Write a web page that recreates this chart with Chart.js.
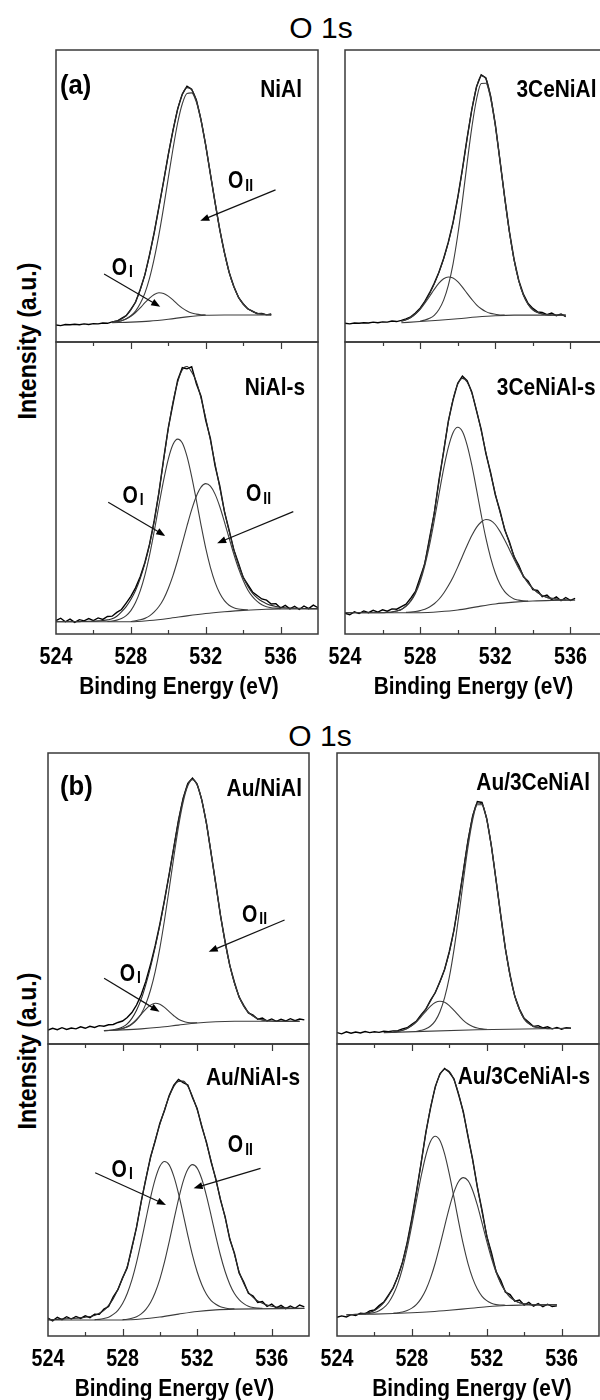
<!DOCTYPE html>
<html>
<head>
<meta charset="utf-8">
<script src="https://cdn.jsdelivr.net/npm/chart.js@4.4.1/dist/chart.umd.min.js"></script>
<style>
  body { margin: 0; width: 600px; height: 1400px; overflow: hidden; background: #fff; position: relative; }
  canvas { position: absolute; }
  .head { position: absolute; font: 30px 'Liberation Sans', Arial, sans-serif; line-height: 1; transform: translate(-50%, -50%); white-space: nowrap; }
  .ylab { position: absolute; font: bold 26px 'Liberation Sans', Arial, sans-serif; line-height: 1;
          transform: translate(-50%, -50%) rotate(-90deg) scaleX(0.89); white-space: nowrap; }
</style>
</head>
<body>
<div class="head" style="left:321px;top:28px">O 1s</div>
<div class="head" style="left:320px;top:736px">O 1s</div>
<div class="ylab" style="left:27px;top:341px">Intensity (a.u.)</div>
<div class="ylab" style="left:27px;top:1051px">Intensity (a.u.)</div>

<script>
const sans = "'Liberation Sans', Arial, sans-serif";

// binding energy sampling (eV) and axis ticks
const energyGrid = [524, 524.25, 524.5, 524.75, 525, 525.25, 525.5, 525.75, 526, 526.25, 526.5, 526.75,
  527, 527.25, 527.5, 527.75, 528, 528.25, 528.5, 528.75, 529, 529.25, 529.5, 529.75,
  530, 530.25, 530.5, 530.75, 531, 531.25, 531.5, 531.75, 532, 532.25, 532.5, 532.75,
  533, 533.25, 533.5, 533.75, 534, 534.25, 534.5, 534.75, 535, 535.25, 535.5, 535.75,
  536, 536.25, 536.5, 536.75, 537, 537.25, 537.5, 537.75, 538];
const energyTicks = [524, 528, 532, 536];
const minorTicks = [526, 530, 534];

// NiAl (from 524 / 527 eV)
const niAlRaw = [5.8, 5.6, 6.0, 5.9, 6.1, 5.9, 6.2, 6.0, 6.3, 6.2, 6.5, 6.4,
  6.9, 7.1, 8.1, 9.0, 11.2, 13.6, 18.0, 23.0, 29.9, 37.5, 46.3, 55.0,
  64.2, 72.4, 79.8, 84.9, 87.6, 86.6, 82.9, 76.0, 67.4, 57.5, 47.8, 38.5,
  30.7, 23.9, 19.1, 15.3, 13.1, 11.3, 10.6, 9.7, 9.8, 9.3, 9.6];
const niAlFit = [6.85, 7.25, 7.9, 9.05, 11.0, 13.8, 17.85, 23.15, 29.75, 37.6, 46.15, 55.1,
  64.1, 72.5, 79.7, 84.8, 87.1, 86.4, 82.75, 76.15, 67.35, 57.6, 47.75, 38.55,
  30.55, 23.95, 18.95, 15.45, 12.95, 11.45, 10.45, 9.85, 9.55, 9.4, 9.3];
const niAlO1 = [6.7, 6.95, 7.3, 7.85, 8.8, 10.1, 11.65, 13.45, 15.05, 16.3, 16.85, 16.6,
  15.7, 14.4, 12.9, 11.6, 10.6, 9.9, 9.55, 9.35, 9.25];
const niAlO2 = [6.75, 6.95, 7.3, 7.95, 9.0, 10.6, 13.15, 16.75, 21.85, 28.6, 36.75, 46.1,
  56.2, 66.1, 75.0, 81.6, 85.1, 85.3, 82.15, 75.85, 67.25, 57.6, 47.75, 38.55,
  30.55, 23.95, 18.95, 15.45, 12.95, 11.45, 10.45, 9.85, 9.55, 9.4, 9.3];
const niAlBase = [[527, 6.6], [528, 6.8], [529, 7.15], [530, 7.8], [531, 8.6], [532, 9.15], [533, 9.25], [535.5, 9.25]];

// NiAl-s
const niAlSRaw = [4.6, 5.4, 4.2, 5.1, 4.0, 4.9, 4.5, 5.3, 4.6, 5.5, 5.0, 6.0,
  6.1, 7.4, 8.4, 10.6, 12.9, 15.8, 19.6, 24.5, 30.8, 38.9, 48.4, 59.9,
  70.6, 78.8, 86.9, 91.2, 90.8, 91.5, 85.7, 81.4, 73.2, 67.0, 57.6, 50.8,
  41.9, 35.6, 28.9, 24.2, 19.4, 16.9, 14.4, 13.2, 12.0, 11.6, 10.3, 10.4,
  8.9, 9.8, 8.6, 9.5, 8.4, 9.6, 8.7, 9.9, 9.0];
const niAlSFit = [4.2, 4.2, 4.2, 4.2, 4.2, 4.25, 4.3, 4.35, 4.4, 4.5, 4.65, 4.85,
  5.2, 6.1, 7.6, 9.4, 11.8, 14.9, 19.0, 24.2, 30.6, 38.6, 48.6, 59.5,
  70.2, 79.4, 86.25, 90.5, 91.6, 89.7, 86.4, 80.8, 73.9, 66.35, 58.3, 50.15,
  42.2, 35.2, 29.0, 23.8, 19.6, 16.4, 14.0, 12.4, 11.2, 10.4, 9.8, 9.4,
  9.15, 9.0, 8.9, 8.85, 8.8, 8.75, 8.7, 8.7, 8.7];
const niAlSO1 = [4.3, 4.45, 4.75, 5.3, 6.3, 8.0, 10.75, 14.75, 20.15, 27.0, 35.25, 44.1,
  52.6, 59.9, 64.9, 66.75, 65.4, 60.8, 53.9, 45.8, 37.3, 29.4, 22.85, 17.7,
  13.95, 11.4, 9.85, 9.0, 8.55, 8.35, 8.3];
const niAlSO2 = [4.3, 4.55, 4.85, 5.35, 6.2, 7.55, 9.4, 12.0, 15.6, 20.0, 25.25, 31.1,
  37.0, 42.6, 47.2, 50.3, 51.5, 50.65, 47.9, 43.65, 38.4, 32.85, 27.4, 22.5,
  18.4, 15.1, 12.8, 11.15, 10.0, 9.35, 9.0, 8.85, 8.7];
const niAlSBase = [[524, 4.2], [528, 4.2], [529, 4.6], [530, 5.3], [531, 6.2], [532, 7.0], [533, 7.6],
  [534, 8.1], [535, 8.4], [536, 8.6], [538, 8.6]];

// 3CeNiAl
const ceRaw = [6.4, 6.2, 6.5, 6.4, 6.6, 6.5, 6.8, 6.6, 6.9, 6.8, 7.2, 7.0,
  7.4, 7.9, 8.6, 9.9, 11.6, 13.9, 16.8, 20.1, 23.9, 28.6, 34.2, 40.9,
  49.4, 59.2, 69.8, 79.6, 87.4, 91.5, 90.4, 84.2, 74.6, 62.1, 49.6, 37.9,
  28.3, 21.1, 16.3, 13.2, 11.5, 10.3, 10.1, 9.4, 9.9, 9.0, 9.6, 8.7];
const ceFit = [7.1, 7.6, 8.4, 9.6, 11.35, 13.7, 16.5, 19.85, 23.85, 28.45, 34.0, 40.8,
  49.25, 59.05, 69.65, 79.6, 87.25, 91.2, 90.2, 84.3, 74.5, 62.25, 49.45, 37.75,
  28.1, 20.95, 16.0, 12.9, 11.05, 10.1, 9.6, 9.35, 9.25, 9.2, 9.2, 9.2];
const ceO1 = [7.1, 7.6, 8.4, 9.6, 11.2, 13.3, 15.6, 18.0, 20.15, 21.65, 22.25, 21.9,
  20.65, 18.8, 16.65, 14.6, 12.75, 11.4, 10.4, 9.8, 9.5, 9.25, 9.2];
const ceO2 = [7.15, 7.5, 8.1, 9.15, 11.15, 14.35, 19.4, 26.7, 36.55, 48.35, 61.25, 73.4,
  83.05, 88.5, 88.6, 83.4, 74.0, 62.05, 49.35, 37.75, 28.1, 20.95, 16.0, 12.9,
  11.05, 10.1, 9.6, 9.35, 9.25];
const ceBase = [[527, 6.6], [528, 7.0], [529, 7.45], [530, 7.95], [531, 8.55], [532, 9.0], [533, 9.2], [535.75, 9.2]];

// 3CeNiAl-s
const ceSRaw = [7.1, 6.6, 7.6, 7.0, 7.9, 7.3, 8.1, 7.5, 8.3, 7.8, 8.6, 8.5,
  9.4, 10.2, 12.3, 14.6, 19.4, 24.1, 32.8, 41.2, 52.6, 62.4, 72.9, 80.1,
  85.9, 88.3, 86.8, 82.9, 76.4, 70.1, 61.8, 55.3, 47.7, 42.2, 35.7, 31.6,
  26.4, 23.5, 19.6, 18.1, 15.2, 14.9, 12.8, 13.3, 11.8, 12.7, 11.4, 12.5,
  11.5, 12.2];
const ceSFit = [7.3, 7.3, 7.3, 7.3, 7.3, 7.3, 7.3, 7.3, 7.3, 7.4, 7.55, 7.9,
  8.4, 9.6, 11.4, 14.3, 18.6, 24.55, 32.25, 41.65, 52.1, 62.75, 72.5, 80.35,
  85.5, 87.55, 86.3, 82.5, 76.7, 69.65, 62.2, 54.95, 48.1, 41.75, 36.1, 31.15,
  26.7, 23.0, 19.95, 17.5, 15.6, 14.2, 13.2, 12.55, 12.2, 11.95, 11.75, 11.7, 11.6];
const ceSO1 = [7.4, 7.55, 7.9, 8.4, 9.5, 11.2, 13.9, 17.9, 23.45, 30.45, 38.8, 47.8,
  56.55, 63.9, 68.95, 70.8, 69.35, 64.7, 57.8, 49.5, 40.85, 32.8, 26.15, 20.9,
  17.05, 14.5, 12.95, 12.0, 11.6, 11.35, 11.3];
const ceSO2 = [7.4, 7.5, 7.7, 8.0, 8.45, 9.25, 10.35, 11.9, 13.95, 16.5, 19.45, 22.9,
  26.65, 30.3, 33.7, 36.5, 38.35, 39.2, 38.85, 37.5, 35.15, 32.2, 28.95, 25.6,
  22.4, 19.7, 17.4, 15.6, 14.2, 13.2, 12.55, 12.2, 11.95, 11.75, 11.7];
const ceSBase = [[524, 7.3], [528, 7.3], [529, 7.6], [530, 8.2], [531, 9.3], [532, 10.3], [533, 10.9],
  [534, 11.3], [535, 11.5], [536.25, 11.6]];

// Au/NiAl
const auRaw = [4.8, 5.4, 4.9, 5.6, 5.0, 5.5, 5.2, 5.9, 5.4, 6.1, 5.7, 6.3,
  6.1, 6.6, 6.7, 7.4, 7.9, 9.1, 10.8, 13.4, 16.9, 21.6, 27.3, 33.8,
  41.2, 49.5, 58.4, 67.6, 76.9, 84.5, 89.6, 91.4, 89.3, 83.9, 75.9, 65.4,
  55.1, 44.2, 35.3, 27.0, 21.2, 16.1, 13.3, 10.7, 9.9, 8.5, 8.9, 7.9,
  8.6, 7.8, 8.5, 7.9, 8.7, 8.0, 8.6, 8.3];
const auFit = [4.6, 4.65, 4.9, 5.2, 5.85, 6.9, 8.8, 11.6, 15.4, 20.5, 26.45, 33.3,
  40.85, 49.3, 58.3, 67.7, 76.7, 84.2, 89.2, 91.0, 89.1, 83.75, 75.65, 65.55,
  54.85, 44.4, 34.95, 27.1, 20.9, 16.3, 13.0, 10.9, 9.6, 8.7, 8.3, 8.05,
  7.9, 7.85, 7.8, 7.8, 7.8, 7.8, 7.8];
const auO1 = [4.8, 4.95, 5.35, 6.0, 7.0, 8.5, 10.2, 12.0, 13.35, 14.0, 13.65, 12.6,
  11.1, 9.7, 8.5, 7.8, 7.4, 7.25, 7.3];
const auO2 = [5.0, 5.35, 5.8, 6.8, 8.2, 10.4, 13.8, 18.55, 24.9, 32.95, 42.6, 53.3,
  64.3, 74.7, 83.1, 88.7, 90.8, 89.0, 83.75, 75.65, 65.55, 54.85, 44.4, 34.95,
  27.1, 20.9, 16.3, 13.0, 10.9, 9.6, 8.7, 8.3, 8.05];
const auBase = [[527, 4.6], [528, 4.85], [529, 5.2], [530, 5.75], [531, 6.5], [532, 7.2], [533, 7.65], [534, 7.8], [537.5, 7.8]];

// Au/NiAl-s
const auSRaw = [6.1, 5.2, 6.4, 5.6, 6.6, 5.8, 6.7, 6.0, 6.9, 6.3, 7.5, 7.4,
  9.2, 10.1, 13.4, 15.9, 19.9, 23.4, 30.4, 37.2, 46.1, 53.7, 61.3, 66.8,
  72.9, 77.2, 82.4, 85.9, 87.9, 86.8, 86.0, 81.7, 77.9, 71.6, 66.4, 59.6,
  53.9, 46.6, 40.9, 33.1, 28.4, 21.6, 18.5, 14.6, 13.7, 11.5, 11.8, 10.1,
  10.9, 9.6, 10.5, 9.4, 10.3, 9.5, 10.6, 10.0];
const auSFit = [5.6, 5.65, 5.7, 5.8, 5.9, 6.0, 6.1, 6.25, 6.4, 6.7, 7.0, 7.8,
  8.8, 10.5, 12.8, 16.0, 19.8, 23.8, 30.0, 37.5, 45.8, 54.0, 61.0, 67.1,
  72.5, 77.5, 82.0, 85.5, 87.2, 87.3, 85.5, 82.0, 77.5, 72.0, 66.0, 60.0,
  53.5, 47.0, 40.5, 33.5, 28.0, 22.0, 18.0, 15.0, 13.2, 12.0, 11.2, 10.6,
  10.2, 9.9, 9.8, 9.7, 9.6, 9.55, 9.5, 9.45];
const auSO1 = [5.6, 5.7, 6.0, 6.45, 7.4, 8.8, 11.1, 14.55, 19.2, 25.2, 32.3, 39.95,
  47.4, 53.7, 58.1, 59.75, 58.6, 54.65, 48.8, 41.75, 34.5, 27.7, 22.0, 17.55,
  14.3, 12.15, 10.85, 10.0, 9.6, 9.35, 9.3];
const auSO2 = [5.6, 5.75, 6.05, 6.6, 7.6, 9.15, 11.45, 14.9, 19.5, 25.35, 32.25, 39.65,
  46.8, 52.95, 57.1, 58.7, 57.5, 53.75, 48.0, 41.25, 34.2, 27.65, 22.1, 17.75,
  14.55, 12.45, 11.1, 10.2, 9.75, 9.55, 9.45];
const auSBase = [[524, 5.5], [528, 5.5], [529, 5.8], [530, 6.5], [531, 7.5], [532, 8.4], [533, 8.95], [534, 9.2], [537.75, 9.4]];

// Au/3CeNiAl
const au3Raw = [3.9, 3.5, 4.2, 3.7, 4.1, 3.8, 4.3, 3.9, 4.2, 4.0, 4.4, 4.2,
  4.5, 4.6, 5.2, 5.6, 6.8, 7.9, 10.1, 12.0, 15.1, 17.6, 21.5, 25.6,
  31.7, 39.1, 49.0, 59.3, 70.0, 78.4, 83.3, 83.0, 77.5, 68.1, 56.2, 44.3,
  32.6, 23.7, 16.4, 12.0, 8.8, 7.5, 6.0, 6.3, 5.5, 5.9, 5.2, 5.7,
  5.1, 5.6, 5.4];
const au3Fit = [4.1, 4.35, 4.7, 5.35, 6.3, 7.8, 9.8, 12.1, 14.8, 17.75, 21.3, 25.75,
  31.5, 39.25, 48.8, 59.45, 69.8, 78.25, 82.8, 82.5, 77.25, 67.9, 56.3, 44.05,
  32.75, 23.4, 16.5, 11.75, 8.65, 7.0, 6.05, 5.65, 5.4, 5.3, 5.3, 5.35,
  5.35, 5.4, 5.4];
const au3O1 = [4.1, 4.35, 4.7, 5.35, 6.3, 7.65, 9.4, 11.25, 13.0, 14.25, 14.7, 14.35,
  13.2, 11.55, 9.8, 8.15, 6.9, 6.05, 5.5, 5.2, 5.05];
const au3O2 = [4.4, 4.7, 5.2, 6.2, 7.95, 11.1, 15.95, 22.9, 32.35, 43.7, 56.05, 67.7,
  77.05, 82.2, 82.2, 77.15, 67.9, 56.3, 44.05, 32.75, 23.4, 16.5, 11.75, 8.65,
  7.0, 6.05, 5.65, 5.4];
const au3Base = [[526.5, 3.9], [531.5, 4.9], [536.5, 5.4]];

// Au/3CeNiAl-s
const au3SRaw = [6.4, 6.9, 6.5, 7.3, 7.0, 7.8, 7.6, 8.6, 8.9, 10.4, 11.6, 14.0,
  16.5, 20.4, 25.2, 32.0, 40.3, 49.6, 59.4, 69.8, 78.1, 85.4, 89.8, 91.6,
  90.3, 88.1, 82.6, 76.8, 68.3, 60.5, 50.9, 43.1, 34.2, 28.6, 22.0, 19.1,
  15.0, 14.2, 11.9, 12.3, 10.6, 11.5, 10.2, 11.1, 10.0, 10.9, 10.1, 10.3];
const au3SFit = [7.2, 7.3, 7.4, 7.55, 7.75, 8.1, 8.7, 9.8, 11.4, 13.7,
  16.6, 20.4, 25.4, 31.8, 39.8, 49.35, 59.6, 69.55, 78.3, 85.0, 89.45, 91.25,
  90.6, 87.75, 82.9, 76.35, 68.6, 60.05, 51.2, 42.5, 34.6, 27.8, 22.35, 18.25,
  15.35, 13.3, 12.15, 11.4, 11.0, 10.8, 10.7, 10.65, 10.65, 10.7, 10.7, 10.7];
const au3SO1 = [7.55, 7.75, 8.05, 8.65, 9.7, 11.4, 14.1, 17.95, 23.2, 30.0, 37.95, 46.55,
  54.8, 61.9, 66.7, 68.4, 66.95, 62.35, 55.5, 47.45, 39.1, 31.35, 24.8, 19.75,
  16.1, 13.6, 12.1, 11.2, 10.75, 10.6, 10.55];
const au3SO2 = [7.8, 7.95, 8.2, 8.7, 9.55, 10.85, 12.9, 15.85, 19.9, 25.0, 31.05, 37.55,
  43.9, 49.25, 52.9, 54.25, 53.2, 49.85, 44.8, 38.75, 32.5, 26.7, 21.8, 18.0,
  15.25, 13.3, 12.15, 11.4, 11.0, 10.8, 10.7];
const au3SBase = [[524.5, 7.3], [525.5, 7.45], [526, 7.5], [527, 7.7], [528, 7.95], [529, 8.3], [530, 8.8],
  [531, 9.4], [532, 10.0], [533, 10.45], [534, 10.6], [535.75, 10.7]];

// O_I / O_II call-outs: label centre, arrow tail, arrow tip (eV, a.u.)
const niAlMarks = [
  { sub: 'I', at: [527.54, 26.0], from: [526.57, 23.3], to: [529.57, 12.1] },
  { sub: 'II', at: [533.86, 55.5], from: [535.73, 52.1], to: [531.71, 41.5] }];
const niAlSMarks = [
  { sub: 'I', at: [528.12, 47.9], from: [526.79, 45.1], to: [529.84, 33.6] },
  { sub: 'II', at: [534.82, 48.3], from: [536.68, 41.9], to: [532.61, 31.1] }];
const auMarks = [
  { sub: 'I', at: [528.41, 24.7], from: [527.01, 22.6], to: [529.98, 11.1] },
  { sub: 'II', at: [535.08, 45.0], from: [536.69, 42.6], to: [532.62, 31.7] }];
const auSMarks = [
  { sub: 'I', at: [527.98, 57.5], from: [526.53, 55.9], to: [530.33, 44.9] },
  { sub: 'II', at: [534.32, 65.8], from: [535.4, 57.4], to: [531.81, 50.6] }];

function onGrid(from, values) {
  const start = energyGrid.indexOf(from);
  return values.map((v, i) => [energyGrid[start + i], v]);
}

// box = [left, top, right, bottom] of the plot frame in page pixels
const panels = [
  { box: [56, 50, 318, 342], lower: false, name: 'NiAl', nameAt: [-16, 47], tag: '(a)', tagAt: [4, 44],
    raw: onGrid(524, niAlRaw), fit: onGrid(527, niAlFit), o1: onGrid(527, niAlO1), o2: onGrid(527, niAlO2), base: niAlBase, marks: niAlMarks },
  { box: [56, 342, 318, 634], lower: true, name: 'NiAl-s', nameAt: [-13, 53], titleDx: -8,
    raw: onGrid(524, niAlSRaw), fit: onGrid(524, niAlSFit), o1: onGrid(526.75, niAlSO1), o2: onGrid(528, niAlSO2), base: niAlSBase, marks: niAlSMarks },
  { box: [345, 50, 607.5, 342], lower: false, name: '3CeNiAl', nameAt: [-11.5, 47],
    raw: onGrid(524, ceRaw), fit: onGrid(527, ceFit), o1: onGrid(527, ceO1), o2: onGrid(528, ceO2), base: ceBase, marks: [] },
  { box: [345, 342, 607.5, 634], lower: true, name: '3CeNiAl-s', nameAt: [-12.5, 53], titleDx: -3,
    raw: onGrid(524, ceSRaw), fit: onGrid(524, ceSFit), o1: onGrid(526.25, ceSO1), o2: onGrid(527.25, ceSO2), base: ceSBase, marks: [] },
  { box: [48, 753, 309, 1044], lower: false, name: 'Au/NiAl', nameAt: [-7, 43], tag: '(b)', tagAt: [12, 42],
    raw: onGrid(524, auRaw), fit: onGrid(527, auFit), o1: onGrid(527.5, auO1), o2: onGrid(527.75, auO2), base: auBase, marks: auMarks },
  { box: [48, 1044, 309, 1336], lower: true, name: 'Au/NiAl-s', nameAt: [-9, 41], titleDx: -4,
    raw: onGrid(524, auSRaw), fit: onGrid(524, auSFit), o1: onGrid(526.5, auSO1), o2: onGrid(528, auSO2), base: auSBase, marks: auSMarks },
  { box: [337, 753, 599, 1044], lower: false, name: 'Au/3CeNiAl', nameAt: [-9, 37],
    raw: onGrid(524, au3Raw), fit: onGrid(527, au3Fit), o1: onGrid(527, au3O1), o2: onGrid(528.25, au3O2), base: au3Base, marks: [] },
  { box: [337, 1044, 599, 1336], lower: true, name: 'Au/3CeNiAl-s', nameAt: [-9, 40], titleDx: 4,
    raw: onGrid(524, au3SRaw), fit: onGrid(524.5, au3SFit), o1: onGrid(525.5, au3SO1), o2: onGrid(527, au3SO2), base: au3SBase, marks: [] }
];

// condensed bold text: squeeze horizontally around the anchor
function squeezed(ctx, text, x, y, size, sx, align) {
  ctx.save();
  ctx.font = `bold ${size}px ${sans}`;
  ctx.textAlign = align;
  ctx.textBaseline = 'alphabetic';
  ctx.translate(x, y);
  ctx.scale(sx, 1);
  ctx.fillText(text, 0, 0);
  ctx.restore();
}

// frame, inward ticks, axis labels, sample name and O_I / O_II call-outs
const framePlugin = {
  id: 'frame',
  afterDatasetsDraw(chart, args, opts) {
    const { ctx, chartArea: a, scales: { x, y } } = chart;
    ctx.save();
    ctx.strokeStyle = '#3a3a3a';
    ctx.lineWidth = 1.5;
    ctx.strokeRect(a.left, a.top, a.right - a.left, a.bottom - a.top);
    ctx.fillStyle = '#000';

    if (opts.lower) {
      ctx.lineWidth = 1.2;
      ctx.beginPath();
      for (const v of energyTicks.concat(minorTicks)) {
        if (v === 524) continue;
        const px = Math.round(x.getPixelForValue(v)) + 0.5;
        const len = energyTicks.includes(v) ? 7 : 4;
        ctx.moveTo(px, a.bottom); ctx.lineTo(px, a.bottom - len);
        ctx.moveTo(px, a.top); ctx.lineTo(px, a.top + len);
      }
      ctx.stroke();
      for (const v of energyTicks) {
        squeezed(ctx, String(v), x.getPixelForValue(v), a.bottom + 30, 24, 0.82, 'center');
      }
      squeezed(ctx, 'Binding Energy (eV)', (a.left + a.right) / 2 + opts.titleDx, a.bottom + 60, 24, 0.87, 'center');
    }

    squeezed(ctx, opts.name, a.right + opts.nameAt[0], a.top + opts.nameAt[1], 24, 0.87, 'right');
    if (opts.tag) {
      squeezed(ctx, opts.tag, a.left + opts.tagAt[0], a.top + opts.tagAt[1], 27, 0.95, 'left');
    }

    ctx.strokeStyle = '#111';
    ctx.lineWidth = 1.2;
    for (const m of opts.marks) {
      const x0 = x.getPixelForValue(m.from[0]), y0 = y.getPixelForValue(m.from[1]);
      const x1 = x.getPixelForValue(m.to[0]), y1 = y.getPixelForValue(m.to[1]);
      const ang = Math.atan2(y1 - y0, x1 - x0);
      ctx.beginPath();
      ctx.moveTo(x0, y0); ctx.lineTo(x1 - 5 * Math.cos(ang), y1 - 5 * Math.sin(ang));
      ctx.stroke();
      ctx.beginPath();
      ctx.moveTo(x1, y1);
      ctx.lineTo(x1 - 9 * Math.cos(ang) + 3.5 * Math.sin(ang), y1 - 9 * Math.sin(ang) - 3.5 * Math.cos(ang));
      ctx.lineTo(x1 - 9 * Math.cos(ang) - 3.5 * Math.sin(ang), y1 - 9 * Math.sin(ang) + 3.5 * Math.cos(ang));
      ctx.closePath();
      ctx.fill();

      const cx = x.getPixelForValue(m.at[0]), cy = y.getPixelForValue(m.at[1]);
      ctx.font = `bold 24px ${sans}`;
      const wO = ctx.measureText('O').width * 0.82;
      ctx.font = `bold 16px ${sans}`;
      const wS = ctx.measureText(m.sub).width * 0.87;
      const left = cx - (wO + 2 + wS) / 2;
      squeezed(ctx, 'O', left, cy + 8.5, 24, 0.82, 'left');
      squeezed(ctx, m.sub, left + wO + 2, cy + 11, 16, 0.87, 'left');
    }
    ctx.restore();
  }
};

function line(data, color, width, smooth) {
  return {
    data, borderColor: color, borderWidth: width, pointRadius: 0, fill: false,
    tension: 0, cubicInterpolationMode: smooth ? 'monotone' : 'default'
  };
}

for (const p of panels) {
  const [l, t, r, b] = p.box;
  const side = 30, top = 10, bottom = p.lower ? 70 : 10;
  const canvas = document.createElement('canvas');
  canvas.width = Math.round(r - l) + 2 * side;
  canvas.height = Math.round(b - t) + top + bottom;
  canvas.style.left = (Math.round(l) - side) + 'px';
  canvas.style.top = (Math.round(t) - top) + 'px';
  canvas.style.width = canvas.width + 'px';
  canvas.style.height = canvas.height + 'px';
  document.body.appendChild(canvas);

  new Chart(canvas, {
    type: 'line',
    data: {
      datasets: [
        line(p.base, '#3c3c3c', 1.1, true),
        line(p.o1, '#3c3c3c', 1.1, true),
        line(p.o2, '#3c3c3c', 1.1, true),
        line(p.fit, '#2a2a2a', 1.1, true),
        line(p.raw, '#000', 1.4, false)
      ]
    },
    options: {
      responsive: false,
      animation: false,
      devicePixelRatio: 1,
      events: [],
      layout: { padding: { left: side, right: side, top: top, bottom: bottom } },
      plugins: {
        legend: { display: false },
        tooltip: { enabled: false },
        frame: { lower: p.lower, name: p.name, nameAt: p.nameAt, tag: p.tag, tagAt: p.tagAt,
                 titleDx: p.titleDx || 0, marks: p.marks }
      },
      scales: {
        x: {
          type: 'linear', min: 524, max: 538, display: false,
          afterBuildTicks: s => { s.ticks = energyTicks.map(v => ({ value: v })); }
        },
        y: { min: 0, max: 100, display: false }
      }
    },
    plugins: [framePlugin]
  });
}
</script>
</body>
</html>
